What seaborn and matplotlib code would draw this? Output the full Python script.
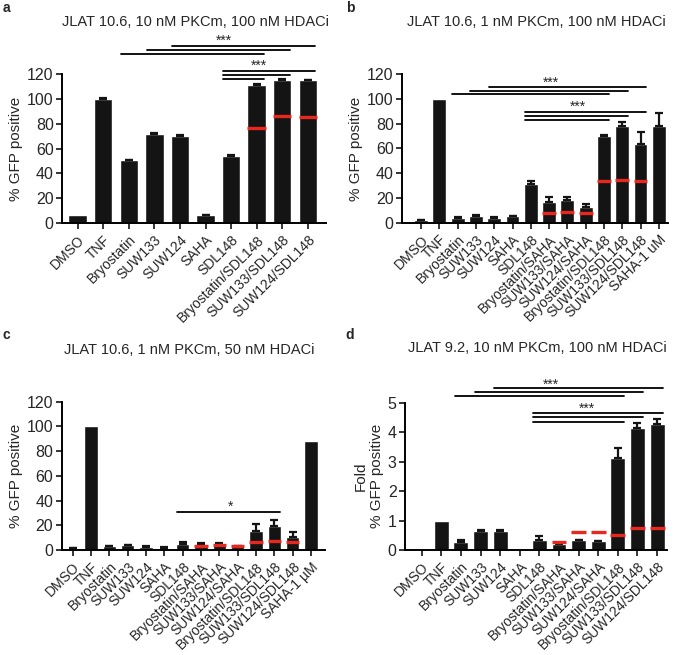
import numpy as np
import pandas as pd
import matplotlib
matplotlib.use('Agg')
import matplotlib.pyplot as plt
import seaborn as sns

sns.set_style('ticks')
plt.rcParams['font.family'] = ['Liberation Sans', 'DejaVu Sans']

# ---- panel a: JLAT 10.6, 10 nM PKCm, 100 nM HDACi
cats_a = ['DMSO', 'TNF', 'Bryostatin', 'SUW133', 'SUW124', 'SAHA', 'SDL148',
          'Bryostatin/SDL148', 'SUW133/SDL148', 'SUW124/SDL148']
vals_a = [6.5, 100, 50.5, 72, 70.5, 6.5, 54, 111.5, 115, 115]
err_a = [0, 0.8, 0.5, 0.5, 0.5, 0.3, 1.2, 0.5, 0.8, 0.5]
red_a = [None, None, None, None, None, None, None, 76.6, 86.6, 85.6]
sig_a = [(2, 7, 136.5), (3, 8, 139.7), (4, 9, 143.2), (6, 7, 116), (6, 8, 119.2), (6, 9, 122.4)]
stars_a = [('***', 5.7, 147), ('***', 7.1, 126.5)]

# ---- panel b: JLAT 10.6, 1 nM PKCm, 100 nM HDACi
cats_b = ['DMSO', 'TNF', 'Bryostatin', 'SUW133', 'SUW124', 'SAHA', 'SDL148',
          'Bryostatin/SAHA', 'SUW133/SAHA', 'SUW124/SAHA', 'Bryostatin/SDL148',
          'SUW133/SDL148', 'SUW124/SDL148', 'SAHA-1 uM']
vals_b = [1.9, 100, 4, 5.5, 4, 5.2, 31.3, 16.5, 18, 13, 70.4, 78.2, 63.4, 78]
err_b = [0.3, 0, 0.6, 0.6, 0.4, 0.6, 2.7, 4.5, 3, 2.2, 0.4, 3.2, 10, 10.5]
red_b = [None, None, None, None, None, None, None, 7.5, 8.6, 7.5, 33.4, 34.2, 33.4, None]
sig_b = [(2, 10, 103.8), (3, 11, 106.5), (4, 12, 110), (6, 10, 83), (6, 11, 86.3), (6, 12, 89.8)]
stars_b = [('***', 7.1, 113), ('***', 8.6, 94)]

# ---- panel c: JLAT 10.6, 1 nM PKCm, 50 nM HDACi
cats_c = ['DMSO', 'TNF', 'Bryostatin', 'SUW133', 'SUW124', 'SAHA', 'SDL148',
          'Bryostatin/SAHA', 'SUW133/SAHA', 'SUW124/SAHA', 'Bryostatin/SDL148',
          'SUW133/SDL148', 'SUW124/SDL148', 'SAHA-1 \u00b5M']
vals_c = [1.6, 100, 3, 3.8, 2.7, 1.9, 4.8, 4, 4.3, 3, 15.6, 19.7, 10.8, 88]
err_c = [0.2, 0, 0.5, 0.5, 0.4, 0.2, 2, 1.8, 1.5, 0.5, 5.4, 4.6, 3.5, 0]
red_c = [None, None, None, None, None, None, None, 3.6, 4.4, 3, 6.6, 7.4, 6.3, None]
sig_c = [(6, 11, 30.5)]
stars_c = [('*', 8.6, 35)]

# ---- panel d: JLAT 9.2, 10 nM PKCm, 100 nM HDACi
cats_d = ['DMSO', 'TNF', 'Bryostatin', 'SUW133', 'SUW124', 'SAHA', 'SDL148',
          'Bryostatin/SAHA', 'SUW133/SAHA', 'SUW124/SAHA', 'Bryostatin/SDL148',
          'SUW133/SDL148', 'SUW124/SDL148']
vals_d = [0.02, 1.0, 0.28, 0.66, 0.65, 0.02, 0.35, 0.2, 0.33, 0.31, 3.12, 4.13, 4.29]
err_d = [0, 0, 0.05, 0.02, 0.02, 0, 0.14, 0.03, 0.01, 0.01, 0.34, 0.17, 0.17]
red_d = [None, None, None, None, None, None, None, 0.26, 0.62, 0.62, 0.51, 0.76, 0.76]
sig_d = [(2, 10, 5.24), (3, 11, 5.37), (4, 12, 5.5), (6, 10, 4.36), (6, 11, 4.5), (6, 12, 4.64)]
stars_d = [('***', 6.6, 5.62), ('***', 8.4, 4.8)]

panels = [
    dict(cats=cats_a, vals=vals_a, err=err_a, red=red_a, sig=sig_a, stars=stars_a,
         title='JLAT 10.6, 10 nM PKCm, 100 nM HDACi', tpos=(0.29, 0.966),
         pos=[0.0919, 0.6595, 0.391, 0.2271], xlim=(-0.61, 9.71), ylim=(0, 120),
         yticks=np.arange(0, 121, 20), ylabel='% GFP positive', width=0.72),
    dict(cats=cats_b, vals=vals_b, err=err_b, red=red_b, sig=sig_b, stars=stars_b,
         title='JLAT 10.6, 1 nM PKCm, 100 nM HDACi', tpos=(0.794, 0.966),
         pos=[0.5956, 0.66, 0.394, 0.2266], xlim=(-1.04, 13.5), ylim=(0, 120),
         yticks=np.arange(0, 121, 20), ylabel='% GFP positive', width=0.76),
    dict(cats=cats_c, vals=vals_c, err=err_c, red=red_c, sig=sig_c, stars=stars_c,
         title='JLAT 10.6, 1 nM PKCm, 50 nM HDACi', tpos=(0.28, 0.466),
         pos=[0.0914, 0.1603, 0.39, 0.2264], xlim=(-0.6, 13.76), ylim=(0, 120),
         yticks=np.arange(0, 121, 20), ylabel='% GFP positive', width=0.74),
    dict(cats=cats_d, vals=vals_d, err=err_d, red=red_d, sig=sig_d, stars=stars_d,
         title='JLAT 9.2, 10 nM PKCm, 100 nM HDACi', tpos=(0.796, 0.469),
         pos=[0.6, 0.1603, 0.388, 0.2249], xlim=(-0.85, 12.5), ylim=(0, 5),
         yticks=np.arange(0, 6, 1), ylabel='Fold\n% GFP positive', width=0.76),
]

fig = plt.figure(figsize=(6.75, 6.55), dpi=100)

for p in panels:
    ax = fig.add_axes(p['pos'])
    df = pd.DataFrame({'cond': p['cats'], 'val': p['vals']})
    sns.barplot(data=df, x='cond', y='val', order=p['cats'], color='#141414',
                saturation=1, width=p['width'], errorbar=None, ax=ax, zorder=2)
    # upper-only error bars, GraphPad style
    x = np.arange(len(p['cats']))
    e = np.array(p['err'])
    has = e > 0
    ax.errorbar(x[has], np.array(p['vals'])[has], yerr=[np.zeros(has.sum()), e[has]],
                fmt='none', ecolor='#141414', elinewidth=1.6, capsize=3, capthick=1.6, zorder=3)
    hw = p['width'] / 2
    for i, r in enumerate(p['red']):
        if r is not None:
            ax.hlines(r, i - hw, i + hw, color='#e8271e', lw=2.4, zorder=4)
    for s, t, y in p['sig']:
        ax.plot([s - 0.3, t + 0.3], [y, y], color='black', lw=1.3, clip_on=False)
    for txt, xs, ys in p['stars']:
        ax.text(xs, ys, txt, ha='center', va='center', fontsize=10)

    ax.set_xlim(*p['xlim'])
    ax.set_ylim(*p['ylim'])
    ax.set_yticks(p['yticks'])
    ax.set_xlabel('')
    ax.set_ylabel(p['ylabel'], fontsize=11, labelpad=3)
    ax.set_xticks(x)
    ax.set_xticklabels(p['cats'], rotation=45, ha='right', rotation_mode='anchor', fontsize=10)
    ax.tick_params(axis='y', labelsize=11.5, width=1.3, length=4, pad=2)
    ax.tick_params(axis='x', width=1.3, length=4, pad=3)
    sns.despine(ax=ax)
    for sp in ['left', 'bottom']:
        ax.spines[sp].set_linewidth(1.4)
        ax.spines[sp].set_color('black')

    fig.text(p['tpos'][0], p['tpos'][1], p['title'], ha='center', va='center', fontsize=10.5)

fig.text(0.004, 0.988, 'a', fontsize=10, fontweight='bold', va='center')
fig.text(0.512, 0.988, 'b', fontsize=10, fontweight='bold', va='center')
fig.text(0.004, 0.489, 'c', fontsize=10, fontweight='bold', va='center')
fig.text(0.512, 0.489, 'd', fontsize=10, fontweight='bold', va='center')

plt.savefig('out.png', dpi=100)
